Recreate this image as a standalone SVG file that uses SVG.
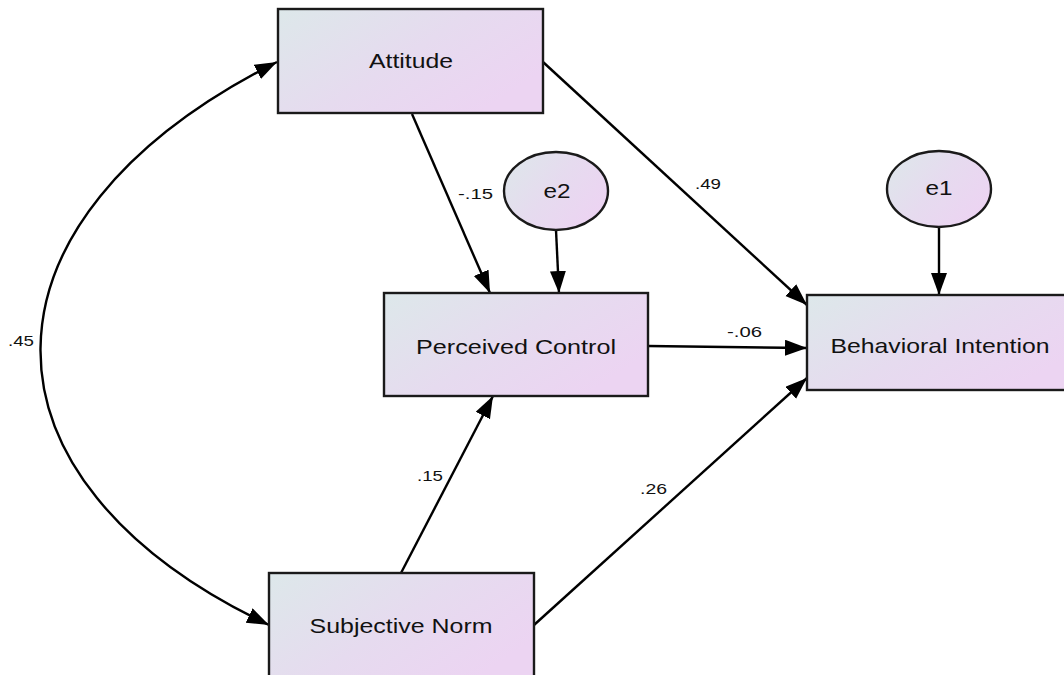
<svg xmlns="http://www.w3.org/2000/svg" width="1064" height="675" viewBox="0 0 1064 675">
<defs>
<linearGradient id="g" x1="0" y1="0" x2="1" y2="0.6">
<stop offset="0" stop-color="#dde8ea"/>
<stop offset="0.55" stop-color="#e6dbef"/>
<stop offset="1" stop-color="#ecd4f2"/>
</linearGradient>
<marker id="ah" markerUnits="userSpaceOnUse" markerWidth="24" markerHeight="18" refX="22" refY="8" orient="auto-start-reverse">
<path d="M0,0 L22,8 L0,16 z" fill="#000"/>
</marker>
<style>
.box{fill:url(#g);stroke:#1a1a1a;stroke-width:2.4}
.lbl{font-family:"Liberation Sans",Arial,sans-serif;font-size:21px;fill:#111;text-anchor:middle}
.coef{font-family:"Liberation Sans",Arial,sans-serif;font-size:15px;fill:#111}
.cn{fill:none;stroke:#000;stroke-width:2.4;marker-end:url(#ah)}
</style>
</defs>
<rect width="1064" height="675" fill="#fff"/>
<g id="connectors">
<path class="cn" d="M412,114 L490,293"/>
<path class="cn" d="M556,230 L559,293"/>
<path class="cn" d="M543,62 L807,305"/>
<path class="cn" d="M648,346 L807,348"/>
<path class="cn" d="M401,573 L493,396"/>
<path class="cn" d="M534,625 L807,378"/>
<path class="cn" d="M939,227 L939,295"/>
<path class="cn" d="M277,62 C -37,220 -37,480 269,625" marker-start="url(#ah)"/>
<text class="coef" x="8" y="346" textLength="26" lengthAdjust="spacingAndGlyphs">.45</text>
<text class="coef" x="458" y="199" textLength="35" lengthAdjust="spacingAndGlyphs">-.15</text>
<text class="coef" x="695" y="189" textLength="26" lengthAdjust="spacingAndGlyphs">.49</text>
<text class="coef" x="727" y="337" textLength="35" lengthAdjust="spacingAndGlyphs">-.06</text>
<text class="coef" x="417" y="481" textLength="26" lengthAdjust="spacingAndGlyphs">.15</text>
<text class="coef" x="640" y="494" textLength="27" lengthAdjust="spacingAndGlyphs">.26</text>
</g>
<g id="attitude">
<rect class="box" x="278" y="9" width="265" height="104"/>
<text class="lbl" x="411" y="68" textLength="84" lengthAdjust="spacingAndGlyphs">Attitude</text>
</g>
<g id="perceived-control">
<rect class="box" x="384" y="293" width="264" height="103"/>
<text class="lbl" x="516" y="354" textLength="200" lengthAdjust="spacingAndGlyphs">Perceived Control</text>
</g>
<g id="behavioral-intention">
<rect class="box" x="807" y="295" width="270" height="95"/>
<text class="lbl" x="940" y="353" textLength="219" lengthAdjust="spacingAndGlyphs">Behavioral Intention</text>
</g>
<g id="subjective-norm">
<rect class="box" x="269" y="573" width="265" height="110"/>
<text class="lbl" x="401" y="633" textLength="183" lengthAdjust="spacingAndGlyphs">Subjective Norm</text>
</g>
<g id="e2">
<ellipse class="box" cx="556" cy="191" rx="52" ry="39"/>
<text class="lbl" x="557" y="198" textLength="27" lengthAdjust="spacingAndGlyphs">e2</text>
</g>
<g id="e1">
<ellipse class="box" cx="939" cy="189" rx="52" ry="38"/>
<text class="lbl" x="939" y="195" textLength="27" lengthAdjust="spacingAndGlyphs">e1</text>
</g>
</svg>
